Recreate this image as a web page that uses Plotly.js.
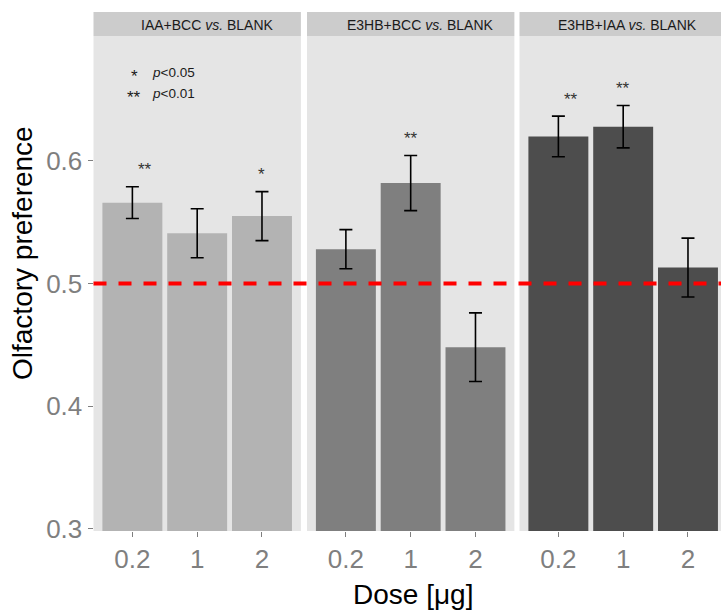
<!DOCTYPE html>
<html>
<head>
<meta charset="utf-8">
<script src="https://cdn.plot.ly/plotly-3.0.1.min.js"></script>
<style>html,body{margin:0;padding:0;background:#fff;}#chart{width:721px;height:612px;}</style>
</head>
<body>
<div id="chart"></div>
<script>
// ---- data ----
const doses = ["0.2", "1", "2"];
const panelTitles = ["IAA+BCC <i>vs.</i> BLANK", "E3HB+BCC <i>vs.</i> BLANK", "E3HB+IAA <i>vs.</i> BLANK"];
const meanIAA_BCC  = [0.566, 0.541, 0.555];
const seIAA_BCC    = [0.013, 0.020, 0.020];
const sigIAA_BCC   = ["**", "", "*"];
const meanE3HB_BCC = [0.528, 0.582, 0.448];
const seE3HB_BCC   = [0.016, 0.0225, 0.028];
const sigE3HB_BCC  = ["", "**", ""];
const meanE3HB_IAA = [0.620, 0.628, 0.513];
const seE3HB_IAA   = [0.0166, 0.0173, 0.024];
const sigE3HB_IAA  = ["**", "**", ""];
const baseline = 0.5;
const legendStars = ["*", "**"];
const legendText = ["<i>p</i>&lt;0.05", "<i>p</i>&lt;0.01"];
const xTitle = "Dose [μg]";
const yTitle = "Olfactory preference";

// ---- style / layout ----
const W = 721, H = 612;
const barColors = ["#B3B3B3", "#7F7F7F", "#4D4D4D"];
const means = [meanIAA_BCC, meanE3HB_BCC, meanE3HB_IAA];
const ses = [seIAA_BCC, seE3HB_BCC, seE3HB_IAA];
const sigs = [sigIAA_BCC, sigE3HB_BCC, sigE3HB_IAA];
const unit = 64.8; // px per category
const panelLeft = [93.5, 307, 519.5];
const panelRight = [300.9, 514.4, 721];
const stripShift = [10.5, 10, 7];
const plotTop = 36, plotBottom = 531, stripTop = 12;
const xa = ["x", "x2", "x3"];
const font = "Liberation Sans, Arial, sans-serif";

const traces = [];
const annotations = [];
const shapes = [];
const layout = {
  width: W, height: H,
  margin: {l: 0, r: 0, t: 0, b: 0},
  paper_bgcolor: "#FFFFFF",
  plot_bgcolor: "#E5E5E5",
  showlegend: false,
  bargap: 0.075,
  font: {family: font},
  yaxis: {
    domain: [1 - plotBottom / H, 1 - plotTop / H],
    range: [0.298, 0.702],
    anchor: "x",
    tickvals: [0.3, 0.4, 0.5, 0.6],
    ticktext: ["0.3", "0.4", "0.5", "0.6"],
    ticks: "outside", ticklen: 5, tickwidth: 1, tickcolor: "#7F7F7F",
    tickfont: {size: 26, color: "#7F7F7F", family: font},
    showgrid: false, zeroline: false, showline: false
  }
};

for (let p = 0; p < 3; p++) {
  const axName = p === 0 ? "xaxis" : "xaxis" + (p + 1);
  const width = panelRight[p] - panelLeft[p];
  layout[axName] = {
    domain: [panelLeft[p] / W, panelRight[p] / W],
    anchor: "y",
    type: "category",
    categoryorder: "array", categoryarray: doses,
    range: [-0.6, -0.6 + width / unit],
    ticks: "outside", ticklen: 5, tickwidth: 1, tickcolor: "#7F7F7F",
    tickfont: {size: 26, color: "#7F7F7F", family: font},
    showgrid: false, zeroline: false, showline: false
  };
  traces.push({
    type: "bar",
    x: doses, y: means[p],
    xaxis: xa[p], yaxis: "y",
    marker: {color: barColors[p], line: {width: 0}},
    error_y: {type: "data", array: ses[p], visible: true, color: "#000000", thickness: 1.6, width: 6.5},
    hoverinfo: "none"
  });
  // strip
  shapes.push({
    type: "rect", xref: xa[p] + " domain", yref: "paper",
    x0: 0, x1: 1, y0: 1 - plotTop / H, y1: 1 - stripTop / H,
    fillcolor: "#CCCCCC", line: {width: 0}, layer: "below"
  });
  annotations.push({
    xref: xa[p] + " domain", yref: "paper", x: 0.5, y: 1 - 25 / H,
    xanchor: "center", yanchor: "middle", showarrow: false, xshift: stripShift[p],
    text: panelTitles[p], font: {size: 14, color: "#1A1A1A", family: font}
  });
  // significance stars
  for (let i = 0; i < doses.length; i++) {
    if (sigs[p][i]) {
      annotations.push({
        xref: xa[p], yref: "y", x: doses[i], y: means[p][i] + ses[p][i],
        xanchor: "center", yanchor: "middle", yshift: 17, showarrow: false,
        text: sigs[p][i], font: {size: 17, color: "#333333", family: font}
      });
    }
  }
}

// legend of significance
const legendY = [76.5, 97.3];
const legendTextY = [72.2, 93.8];
for (let k = 0; k < 2; k++) {
  annotations.push({
    xref: "paper", yref: "paper", x: 134 / W, y: 1 - legendY[k] / H,
    xanchor: "center", yanchor: "middle", showarrow: false,
    text: legendStars[k], font: {size: 17, color: "#1A1A1A", family: font}
  });
  annotations.push({
    xref: "paper", yref: "paper", x: 149.5 / W, y: 1 - legendTextY[k] / H,
    xanchor: "left", yanchor: "middle", showarrow: false,
    text: legendText[k], font: {size: 13.5, color: "#1A1A1A", family: font}
  });
}

// x title
annotations.push({
  xref: "paper", yref: "paper", x: 412.5 / W, y: 1 - 594 / H,
  xanchor: "center", yanchor: "middle", showarrow: false,
  text: xTitle, font: {size: 28, color: "#000000", family: font}
});
// y title
annotations.push({
  xref: "paper", yref: "paper", x: 23 / W, y: 1 - 253 / H,
  xanchor: "center", yanchor: "middle", showarrow: false, textangle: -90,
  text: yTitle, font: {size: 28, color: "#000000", family: font}
});

// baseline
shapes.push({
  type: "line", xref: "paper", yref: "y",
  x0: panelLeft[0] / W, x1: 1, y0: baseline, y1: baseline,
  line: {color: "#FF0000", width: 4, dash: "13px,12px"}, layer: "above"
});

layout.annotations = annotations;
layout.shapes = shapes;

Plotly.newPlot("chart", traces, layout, {staticPlot: true, displayModeBar: false});
</script>
</body>
</html>
